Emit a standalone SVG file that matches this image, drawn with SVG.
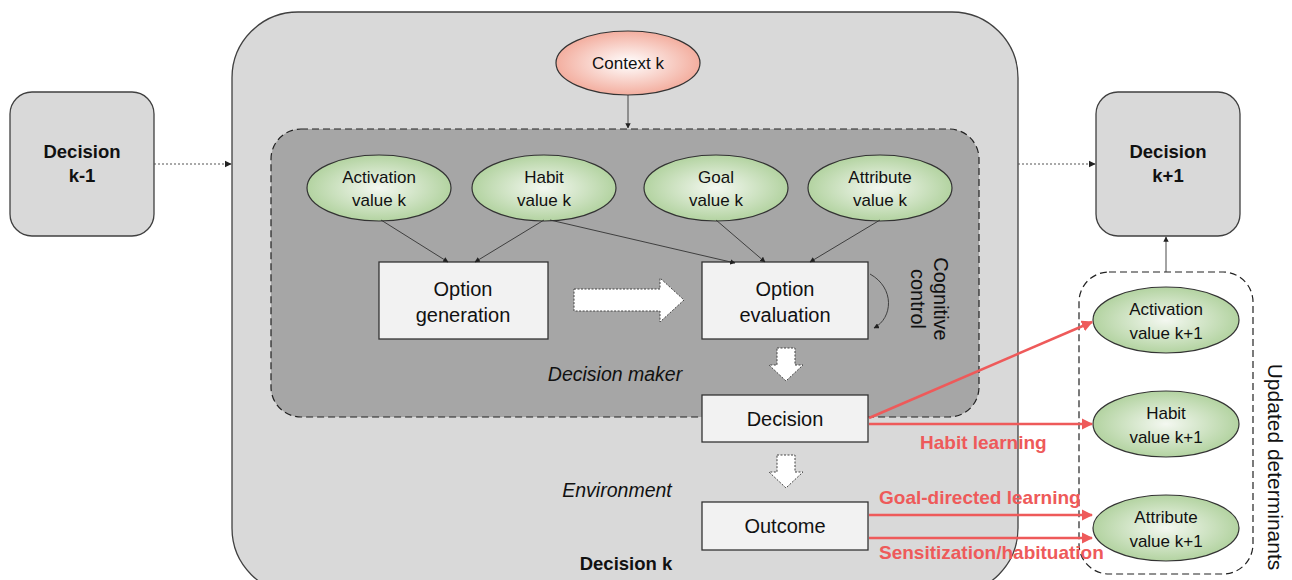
<svg xmlns="http://www.w3.org/2000/svg" width="1292" height="580" viewBox="0 0 1292 580">
<defs>
<radialGradient id="gG" cx="50%" cy="50%" r="50%"><stop offset="0" stop-color="#f4f8f1"/><stop offset="1" stop-color="#b3d3a1"/></radialGradient>
<radialGradient id="gP" cx="50%" cy="50%" r="50%"><stop offset="0" stop-color="#ffffff"/><stop offset="1" stop-color="#f3ae9f"/></radialGradient>
<marker id="ah" viewBox="0 0 10 10" refX="9" refY="5" markerWidth="6" markerHeight="6" orient="auto"><path d="M0,0 L10,5 L0,10 z" fill="#222"/></marker>
<marker id="ar" viewBox="0 0 10 10" refX="9" refY="5" markerWidth="4.5" markerHeight="4.5" orient="auto"><path d="M0,0 L10,5 L0,10 z" fill="#ee5a5a"/></marker>
</defs>
<style>
.t{font-family:"Liberation Sans",Arial,sans-serif;fill:#111;text-anchor:middle}
.s{font-size:17px}
.m{font-size:20px}
.b{font-weight:bold;font-size:18.5px}
.i{font-style:italic;font-size:19.5px}
.r{font-family:"Liberation Sans",Arial,sans-serif;font-weight:bold;font-size:19px;fill:#ee5a5a}
.dec{fill:#d9d9d9;stroke:#404040;stroke-width:1.3}
.box{fill:#f2f2f2;stroke:#333;stroke-width:1.3}
.ge{fill:url(#gG);stroke:#333;stroke-width:1.2}
.thin{stroke:#333;stroke-width:0.9;fill:none;marker-end:url(#ah)}
.red{stroke:#ee5a5a;stroke-width:2.5;fill:none;marker-end:url(#ar)}
.blk{fill:#fff;stroke:#444;stroke-width:1;stroke-dasharray:2 1.5}
</style>
<rect width="1292" height="580" fill="#fff"/>

<g id="decision-k">
<rect x="232" y="12" width="786" height="582" rx="66" class="dec"/>
<text x="626" y="570" class="t b">Decision k</text>
</g>
<g id="decision-maker">
<rect x="271" y="129" width="708" height="288" rx="30" fill="#a6a6a6" stroke="#222" stroke-width="1.2" stroke-dasharray="7 4"/>
<text x="615" y="381" class="t i">Decision maker</text>
</g>
<g id="environment-label"><text x="617" y="497" class="t i">Environment</text></g>

<g id="decision-km1">
<rect x="10" y="92" width="144" height="144" rx="22" class="dec"/>
<text x="82" y="158" class="t b">Decision</text>
<text x="82" y="182" class="t b">k-1</text>
</g>
<g id="decision-kp1">
<rect x="1096" y="92" width="144" height="144" rx="22" class="dec"/>
<text x="1168" y="158" class="t b">Decision</text>
<text x="1168" y="182" class="t b">k+1</text>
</g>

<g id="context-k">
<ellipse cx="628" cy="63" rx="72" ry="32" fill="url(#gP)" stroke="#333" stroke-width="1.2"/>
<text x="628" y="69" class="t s">Context k</text>
</g>

<g id="activation-k"><ellipse cx="379" cy="188" rx="72" ry="33" class="ge"/><text x="379" y="183" class="t s">Activation</text><text x="379" y="206" class="t s">value k</text></g>
<g id="habit-k"><ellipse cx="544" cy="188" rx="72" ry="33" class="ge"/><text x="544" y="183" class="t s">Habit</text><text x="544" y="206" class="t s">value k</text></g>
<g id="goal-k"><ellipse cx="716" cy="188" rx="72" ry="33" class="ge"/><text x="716" y="183" class="t s">Goal</text><text x="716" y="206" class="t s">value k</text></g>
<g id="attribute-k"><ellipse cx="880" cy="188" rx="72" ry="33" class="ge"/><text x="880" y="183" class="t s">Attribute</text><text x="880" y="206" class="t s">value k</text></g>

<g id="option-generation"><rect x="379" y="262" width="169" height="77" class="box"/><text x="463" y="296" class="t m">Option</text><text x="463" y="322" class="t m">generation</text></g>
<g id="option-evaluation"><rect x="702" y="262" width="166" height="77" class="box"/><text x="785" y="296" class="t m">Option</text><text x="785" y="322" class="t m">evaluation</text></g>
<g id="decision"><rect x="702" y="395" width="166" height="47" class="box"/><text x="785" y="426" class="t m">Decision</text></g>
<g id="outcome"><rect x="702" y="502" width="166" height="48" class="box"/><text x="785" y="533" class="t m">Outcome</text></g>

<g id="cognitive-label">
<text transform="translate(934,299) rotate(90)" class="t m">Cognitive</text>
<text transform="translate(911,299) rotate(90)" class="t m">control</text>
</g>

<g id="updated-determinants">
<rect x="1079" y="272" width="174" height="302" rx="30" fill="none" stroke="#222" stroke-width="1.2" stroke-dasharray="7 4"/>
<text transform="translate(1268,467) rotate(90)" class="t" style="font-size:21px">Updated determinants</text>
</g>
<g id="activation-kp1"><ellipse cx="1166" cy="320" rx="73" ry="33" class="ge"/><text x="1166" y="315" class="t s">Activation</text><text x="1166" y="339" class="t s">value k+1</text></g>
<g id="habit-kp1"><ellipse cx="1166" cy="424" rx="73" ry="33" class="ge"/><text x="1166" y="419" class="t s">Habit</text><text x="1166" y="443" class="t s">value k+1</text></g>
<g id="attribute-kp1"><ellipse cx="1166" cy="528" rx="73" ry="33" class="ge"/><text x="1166" y="523" class="t s">Attribute</text><text x="1166" y="547" class="t s">value k+1</text></g>

<g id="connectors">
<line x1="154" y1="164" x2="231" y2="164" stroke="#555" stroke-width="1.2" stroke-dasharray="2 2" marker-end="url(#ah)"/>
<line x1="1018" y1="164" x2="1095" y2="164" stroke="#555" stroke-width="1.2" stroke-dasharray="2 2" marker-end="url(#ah)"/>
<line x1="628" y1="95" x2="628" y2="128" class="thin"/>
<line x1="1166" y1="272" x2="1166" y2="237" class="thin"/>
<line x1="381" y1="220" x2="448" y2="262" class="thin"/>
<line x1="544" y1="220" x2="475" y2="262" class="thin"/>
<line x1="550" y1="220" x2="735" y2="263" class="thin"/>
<line x1="716" y1="220" x2="765" y2="262" class="thin"/>
<line x1="880" y1="220" x2="810" y2="262" class="thin"/>
<path d="M870,274 C895,288 893,318 874,328" class="thin"/>
<path d="M574,289 H660 V278 L684,300 L660,322 V311 H574 Z" class="blk"/>
<path d="M777,348 H795 V365 H803 L786,381 L769,365 H777 Z" class="blk"/>
<path d="M777,455 H795 V472 H803 L786,488 L769,472 H777 Z" class="blk"/>
<line x1="869" y1="418" x2="1092" y2="322" class="red"/>
<line x1="869" y1="424" x2="1092" y2="424" class="red"/>
<line x1="869" y1="515" x2="1092" y2="515" class="red"/>
<line x1="869" y1="538" x2="1092" y2="538" class="red"/>
<text x="920" y="449" class="r">Habit learning</text>
<text x="879" y="504" class="r">Goal-directed learning</text>
<text x="879" y="559" class="r">Sensitization/habituation</text>
</g>
</svg>
